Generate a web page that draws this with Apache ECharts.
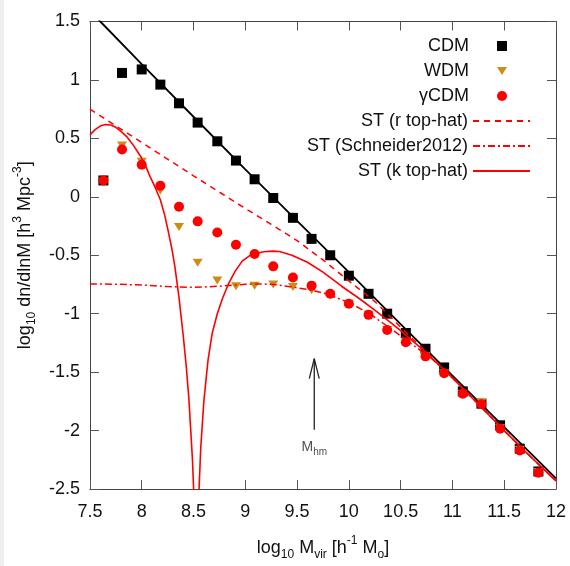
<!DOCTYPE html>
<html>
<head>
<meta charset="utf-8">
<script src="https://cdn.jsdelivr.net/npm/echarts@6/dist/echarts.min.js"></script>
<style>
  html, body { margin: 0; padding: 0; background: #ffffff; }
  #strip { position: absolute; left: 0; top: 0; width: 4px; height: 566px; background: #eeeeec; }
  #chart { position: absolute; left: 4px; top: 0; width: 566px; height: 566px; }
</style>
</head>
<body>
<div id="strip"></div>
<div id="chart"></div>
<script>
// Halo mass bins, log10 M_vir [h^-1 M_sun]
const massBins = [7.63, 7.81, 8.00, 8.18, 8.36, 8.54, 8.73, 8.91, 9.09, 9.27, 9.46, 9.64,
                  9.82, 10.00, 10.19, 10.37, 10.55, 10.74, 10.92, 11.10, 11.28, 11.46, 11.65, 11.83];

// log10 dn/dlnM measured in the simulations
const cdmValues = [0.14, 1.06, 1.09, 0.96, 0.80, 0.635, 0.475, 0.31, 0.15, -0.01, -0.18, -0.36,
                   -0.50, -0.675, -0.83, -1.00, -1.165, -1.30, -1.46, -1.665, -1.77, -1.955, -2.155, -2.35];
const wdmValues = [0.13, 0.44, 0.30, 0.055, -0.258, -0.565, -0.716, -0.765, -0.762, -0.75, -0.772, -0.80,
                   -0.84, -0.915, -1.01, -1.14, -1.245, -1.365, -1.51, -1.685, -1.76, -1.98, -2.165, -2.355];
const gcdmValues = [0.14, 0.405, 0.275, 0.095, -0.085, -0.21, -0.305, -0.41, -0.49, -0.595, -0.69, -0.76,
                    -0.83, -0.915, -1.01, -1.14, -1.245, -1.365, -1.51, -1.685, -1.775, -1.985, -2.17, -2.36];

// Sheth-Tormen prediction for CDM
const stCdmX = [7.58, 7.6, 8.0, 8.5, 9.0, 9.5, 10.0, 10.5, 11.0, 11.5, 12.0];
const stCdmY = [1.52, 1.50, 1.135, 0.685, 0.235, -0.205, -0.645, -1.09, -1.53, -1.97, -2.41];

// ST with real-space top-hat filter
const stRX = [7.5, 8.0, 8.5, 9.0, 9.25, 9.5, 9.75, 10.0, 10.25, 10.5, 10.75, 11.0, 11.25, 11.5, 11.75, 12.0];
const stRY = [0.75, 0.465, 0.18, -0.10, -0.235, -0.375, -0.54, -0.72, -0.895, -1.115, -1.33, -1.55, -1.775, -2.0, -2.22, -2.43];

// ST following Schneider (2012)
const stSX = [7.5, 7.75, 8.0, 8.25, 8.5, 8.75, 9.0, 9.15, 9.3, 9.5, 9.65, 9.8, 10.0, 10.2, 10.4, 10.6, 10.8, 11.0, 11.25, 11.5, 11.75, 12.0];
const stSY = [-0.745, -0.748, -0.755, -0.768, -0.775, -0.765, -0.748, -0.745, -0.752, -0.778, -0.80, -0.835, -0.905, -1.0, -1.125, -1.255, -1.385, -1.545, -1.77, -2.0, -2.22, -2.43];

// ST with sharp-k top-hat filter
const stKX = [7.5, 7.55, 7.6, 7.65, 7.7, 7.75, 7.8, 7.86, 7.92, 7.99, 8.04, 8.08, 8.13, 8.18, 8.22, 8.26, 8.29, 8.32, 8.36, 8.40, 8.43,
              8.455, 8.475, 8.49, 8.50, 8.51, 8.527, 8.545, 8.555, 8.57, 8.6, 8.64, 8.68, 8.73, 8.78, 8.84, 8.9, 8.97, 9.04, 9.1,
              9.18, 9.26, 9.33, 9.45, 9.6, 9.75, 9.93, 10.1, 10.25, 10.41, 10.5, 10.75, 11.0, 11.25, 11.5, 11.75, 12.0];
const stKY = [0.53, 0.575, 0.605, 0.618, 0.615, 0.595, 0.56, 0.51, 0.44, 0.345, 0.26, 0.175, 0.08, -0.025, -0.15, -0.31, -0.44, -0.595, -0.86, -1.18, -1.45,
              -1.72, -2.02, -2.25, -2.47, -2.75, -3.3, -2.75, -2.47, -2.15, -1.75, -1.4, -1.17, -1.0, -0.87, -0.74, -0.64, -0.55, -0.505, -0.485,
              -0.47, -0.465, -0.468, -0.50, -0.56, -0.645, -0.765, -0.87, -0.97, -1.08, -1.145, -1.335, -1.55, -1.775, -2.0, -2.22, -2.43];

// Half-mode mass marker
const mhmX = 9.666;
const arrowY = [-1.994, -1.385];
const arrowHeadX = [9.618, 9.666, 9.714];
const arrowHeadY = [-1.556, -1.385, -1.556];
const mhmLabelY = -2.142;

// Axis ticks
const xTicks = { min: 7.5, max: 12, step: 0.5 };
const yTicks = { min: -2.5, max: 1.5, step: 0.5 };

const zip = (xs, ys) => xs.map((x, i) => [x, ys[i]]);

const FONT = '"Liberation Sans", Arial, Helvetica, sans-serif';
const TEXT = '#111111';
const RED = '#ff0000';
const GOLD = '#cd8c13';
const DOWN_TRIANGLE = 'path://M0,0 L10,0 L5,8 Z';

const axisCommon = {
  type: 'value',
  axisLine: { show: true, onZero: false, lineStyle: { color: '#444444', width: 1 } },
  axisTick: { show: true, inside: true, length: 9, lineStyle: { color: '#555555', width: 1 } },
  splitLine: { show: false },
  axisLabel: { color: TEXT, fontSize: 18, fontFamily: FONT }
};

const richName = {
  t: { fontSize: 18, lineHeight: 26, fontFamily: FONT, color: TEXT },
  s: { fontSize: 12, lineHeight: 16, verticalAlign: 'bottom', fontFamily: FONT, color: TEXT },
  p: { fontSize: 12, lineHeight: 16, verticalAlign: 'top', fontFamily: FONT, color: TEXT }
};

const legendText = (padRight) => ({
  fontSize: 18, lineHeight: 18, color: TEXT, fontFamily: FONT, padding: [0, padRight, 0, 0]
});

const chart = echarts.init(document.getElementById('chart'), null, { renderer: 'canvas' });

chart.setOption({
  backgroundColor: '#ffffff',
  animation: false,
  textStyle: { fontFamily: FONT },
  grid: { left: 83, right: 14, top: 21.5, bottom: 76, containLabel: false },
  legend: [
    {
      // point samples
      orient: 'vertical',
      right: 58,
      top: 32,
      align: 'right',
      itemWidth: 10,
      itemHeight: 10,
      itemGap: 7,
      selectedMode: false,
      itemStyle: { opacity: 1 },
      textStyle: legendText(23),
      data: [
        { name: 'CDM', icon: 'rect' },
        { name: 'WDM', icon: DOWN_TRIANGLE },
        { name: 'γCDM', icon: 'circle' }
      ]
    },
    {
      // analytic curves
      orient: 'vertical',
      right: 34,
      top: 107,
      align: 'right',
      itemWidth: 57,
      itemHeight: 10,
      itemGap: 7,
      selectedMode: false,
      itemStyle: { opacity: 0 },
      textStyle: legendText(0),
      data: ['ST (r top-hat)', 'ST (Schneider2012)', 'ST (k top-hat)']
    }
  ],
  xAxis: [
    Object.assign({}, axisCommon, {
      position: 'bottom',
      min: xTicks.min, max: xTicks.max, interval: xTicks.step,
      axisLabel: Object.assign({}, axisCommon.axisLabel, { margin: 14 }),
      name: '{t|log}{s|10}{t| M}{s|vir}{t| [h}{p|-1}{t| M}{s|o}{t|]}',
      nameLocation: 'middle',
      nameGap: 46,
      nameTextStyle: { fontSize: 18, color: TEXT, fontFamily: FONT, rich: richName }
    }),
    Object.assign({}, axisCommon, {
      position: 'top',
      min: xTicks.min, max: xTicks.max, interval: xTicks.step,
      axisLabel: { show: false }
    })
  ],
  yAxis: [
    Object.assign({}, axisCommon, {
      position: 'left',
      min: yTicks.min, max: yTicks.max, interval: yTicks.step,
      axisLabel: Object.assign({}, axisCommon.axisLabel, { margin: 10 }),
      name: '{t|log}{s|10}{t| dn/dlnM [h}{p|3}{t| Mpc}{p|-3}{t|]}',
      nameLocation: 'middle',
      nameRotate: 90,
      nameGap: 46,
      nameTextStyle: { fontSize: 18, color: TEXT, fontFamily: FONT, rich: richName }
    }),
    Object.assign({}, axisCommon, {
      position: 'right',
      min: yTicks.min, max: yTicks.max, interval: yTicks.step,
      axisLabel: { show: false }
    })
  ],
  series: [
    {
      name: 'CDM', type: 'scatter', data: zip(massBins, cdmValues),
      symbol: 'rect', symbolSize: 10, itemStyle: { color: '#000000', opacity: 1 }, z: 3
    },
    {
      name: 'CDM ST', type: 'line', data: zip(stCdmX, stCdmY),
      symbol: 'none', itemStyle: { color: '#000000' },
      lineStyle: { color: '#000000', width: 1.8 }, z: 4, silent: true
    },
    {
      name: 'WDM', type: 'scatter', data: zip(massBins, wdmValues),
      symbol: 'triangle', symbolRotate: 180, symbolSize: [10, 8], itemStyle: { color: GOLD, opacity: 1 }, z: 5
    },
    {
      name: 'γCDM', type: 'scatter', data: zip(massBins, gcdmValues),
      symbol: 'circle', symbolSize: 10, itemStyle: { color: RED, opacity: 1 }, z: 6
    },
    {
      name: 'ST (r top-hat)', type: 'line', data: zip(stRX, stRY),
      symbol: 'none', itemStyle: { color: RED },
      lineStyle: { color: RED, width: 1.5, type: [6, 5] }, z: 7, silent: true
    },
    {
      name: 'ST (Schneider2012)', type: 'line', data: zip(stSX, stSY),
      symbol: 'none', itemStyle: { color: RED },
      lineStyle: { color: RED, width: 1.5, type: [7, 3, 2, 3] }, z: 7, silent: true
    },
    {
      name: 'ST (k top-hat)', type: 'line', data: zip(stKX, stKY),
      symbol: 'none', itemStyle: { color: RED },
      lineStyle: { color: RED, width: 1.6 }, z: 7, silent: true
    },
    {
      name: 'arrow', type: 'line', data: zip([mhmX, mhmX], arrowY),
      symbol: 'none', lineStyle: { color: '#222222', width: 1.3 }, z: 8, silent: true
    },
    {
      name: 'arrow head', type: 'line', data: zip(arrowHeadX, arrowHeadY),
      symbol: 'none', lineStyle: { color: '#222222', width: 1.3 }, z: 8, silent: true
    },
    {
      name: 'Mhm', type: 'scatter', data: [[mhmX, mhmLabelY]],
      symbol: 'circle', symbolSize: 1, itemStyle: { color: 'rgba(0,0,0,0)' }, silent: true, z: 8,
      label: {
        show: true, position: 'inside',
        formatter: '{m|M}{h|hm}',
        rich: {
          m: { fontSize: 14, lineHeight: 20, color: '#222222', fontFamily: FONT },
          h: { fontSize: 10, lineHeight: 14, verticalAlign: 'bottom', color: '#222222', fontFamily: FONT }
        }
      }
    }
  ]
});
</script>
</body>
</html>
